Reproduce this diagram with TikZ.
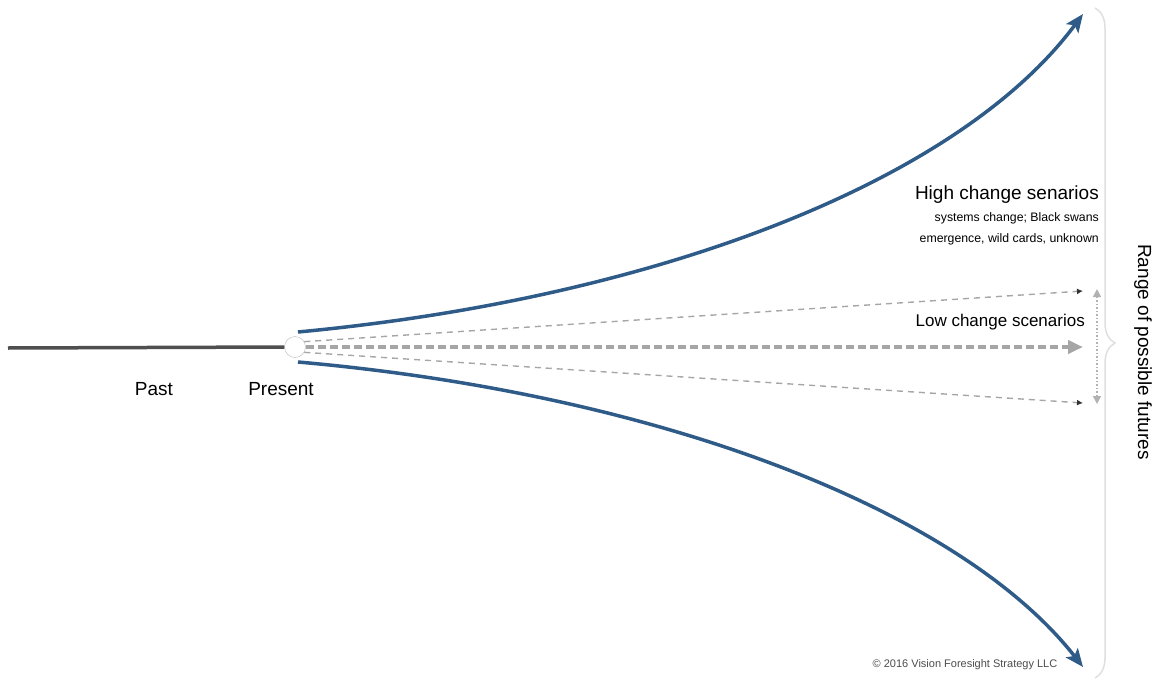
\documentclass[tikz,border=0pt]{standalone}
\usepackage{fontspec}
\setmainfont{Liberation Sans}
\usepackage{xcolor}
\usetikzlibrary{positioning, arrows.meta, decorations.pathreplacing}
\definecolor{futblue}{HTML}{2F5B88}
\definecolor{dashgray}{HTML}{A6A6A6}
\definecolor{pastgray}{HTML}{4F4F4F}

\begin{document}
\begin{tikzpicture}[x=1pt, y=-1pt,
    lbl/.style={font=\fontsize{19}{22}\selectfont, inner sep=0pt},
    small/.style={font=\fontsize{12.3}{15}\selectfont, inner sep=0pt},
    hi/.style={futblue, line width=3.5pt, -{Stealth[length=18pt,width=15pt,inset=4pt]}},
    lo/.style={dashgray, line width=1.4pt, dash pattern=on 6pt off 5pt, -{Latex[length=6pt,width=6pt,black!80]}},
    mid/.style={dashgray, line width=4pt, dash pattern=on 8pt off 4pt, -{Triangle[length=15pt,width=13pt]}},
    span/.style={gray!60, line width=1.5pt, dotted, {Triangle[length=8pt,width=8pt]}-{Triangle[length=8pt,width=8pt]}},
]
\useasboundingbox (0,0) rectangle (1163,680);

\coordinate (start) at (8,348);
\node[draw=gray!55, fill=white, circle, minimum size=21pt, inner sep=0pt] (present) at (295,347) {};
\coordinate (hiA) at (298,332);
\coordinate (hiB) at (1083,14);
\coordinate (loA) at (298,362);
\coordinate (loB) at (1083,667);
\coordinate (dashtop) at (1083,291);
\coordinate (dashmid) at (1083,347);
\coordinate (dashbot) at (1083,403);
\coordinate (spantop) at (1097,289);
\coordinate (spanbot) at (1097,404);

\draw[pastgray, line width=3.5pt] (start) -- (present.west);
\draw[hi] (hiA) .. controls (660,298) and (960,180) .. (hiB);
\draw[hi] (loA) .. controls (660,394) and (960,510) .. (loB);
\draw[lo] (present.30) -- (dashtop);
\draw[mid] (present.east) -- (dashmid);
\draw[lo] (present.-30) -- (dashbot);
\draw[span] (spantop) -- (spanbot);
\draw[gray!25, line width=1.5pt, decorate, decoration={brace, amplitude=20pt}] (1095,8) -- (1095,678);

\node[lbl] (past) at (154,389) {Past};
\node[lbl] (presentlbl) at (281,389) {Present};
\node[lbl, anchor=base east] (high) at (1099,199) {High change senarios};
\node[small, anchor=base east] (high1) at (1099,221) {systems change; Black swans};
\node[small, anchor=base east] (high2) at (1099,242) {emergence, wild cards, unknown};
\node[lbl, font=\fontsize{17}{20}\selectfont, anchor=base east] (low) at (1085,326) {Low change scenarios};
\node[lbl, rotate=-90] (range) at (1143,352) {Range of possible futures};
\node[font=\fontsize{11}{13}\selectfont, text=black!70, inner sep=0pt] (copy) at (965,665) {© 2016 Vision Foresight Strategy LLC};
\end{tikzpicture}
\end{document}
